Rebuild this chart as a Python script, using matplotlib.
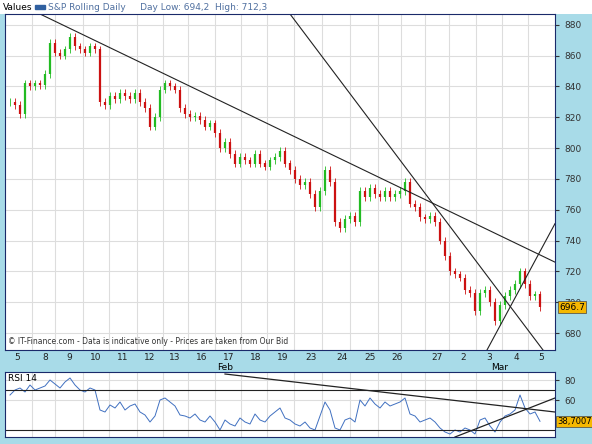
import matplotlib.pyplot as plt
import numpy as np

# closing prices, one bar every 5 px from x=10
closes = [830, 828, 822, 842, 840, 842, 841, 848, 868, 862,
          860, 864, 872, 866, 864, 862, 866, 864, 830, 828,
          834, 832, 836, 834, 832, 836, 830, 826, 814, 820,
          838, 842, 840, 838, 826, 822, 820, 821, 818, 814,
          816, 810, 800, 804, 796, 790, 794, 792, 790, 796,
          790, 788, 792, 794, 798, 790, 786, 780, 776, 778,
          770, 762, 772, 786, 778, 752, 748, 754, 756, 752,
          772, 768, 774, 770, 768, 772, 768, 770, 772, 778,
          764, 762, 755, 754, 756, 752, 740, 730, 720, 718,
          716, 708, 706, 694, 706, 708, 700, 688, 698, 704,
          708, 712, 720, 712, 704, 705, 696.7]
rsi = [65, 70, 72, 68, 75, 70, 72, 74, 80, 76,
       72, 78, 82, 75, 70, 68, 72, 70, 50, 48,
       55, 52, 58, 50, 54, 56, 48, 45, 38, 44,
       60, 62, 58, 54, 45, 44, 42, 46, 40, 38,
       44, 38, 30, 40, 36, 34, 42, 38, 36, 46,
       40, 38, 44, 48, 52, 42, 40, 36, 34, 38,
       32, 30, 44, 58, 50, 32, 30, 40, 42, 38,
       60, 54, 62, 56, 52, 58, 54, 56, 58, 62,
       46, 44, 38, 40, 42, 38, 32, 28, 26, 30,
       28, 32, 30, 26, 40, 42, 34, 28, 38, 44,
       46, 50, 65, 52, 46, 48, 38.7]
day_labels = ["5", "8", "9", "10", "11", "12", "13", "16", "17", "18",
              "19", "23", "24", "25", "26", "27", "2", "3", "4", "5"]
day_label_x = [17, 45, 69, 96, 123, 150, 175, 202, 229, 256,
               283, 311, 342, 370, 397, 437, 463, 489, 516, 541]
grid_x = [32, 55, 83, 109, 137, 163, 188, 215, 241, 267, 294, 322, 350,
          378, 401, 425, 449, 476, 502, 528]
# trendlines as (x0, v0, x1, v1)
price_lines = [(40, 887, 555, 726), (290, 887, 543, 669), (487, 669, 555, 751)]
rsi_lines = [(225, 86, 555, 48), (455, 23, 555, 62)]

BG = "#a8dbe8"
fig = plt.figure(figsize=(5.92, 4.44), dpi=100)
fig.patch.set_facecolor(BG)
W, H = 592, 444

def axes_px(x0, y0, x1, y1):
    return fig.add_axes([x0 / W, 1 - y1 / H, (x1 - x0) / W, (y1 - y0) / H])

# header
hd = axes_px(0, 0, 592, 14)
hd.set_facecolor("white")
hd.set_xticks([]); hd.set_yticks([])
for s in hd.spines.values():
    s.set_visible(False)
hd.text(3 / W, 0.5, "Values", fontsize=6.5, va="center", transform=hd.transAxes)
hd.add_patch(plt.Rectangle((35 / W, 0.35), 10 / W, 0.3, color="#3060a0", transform=hd.transAxes))
hd.text(48 / W, 0.5, "S&P Rolling Daily     Day Low: 694,2  High: 712,3", fontsize=6.5,
        va="center", color="#5070a0", transform=hd.transAxes)

ax = axes_px(5, 14, 555, 350)
ax.set_xlim(5, 555)
ax.set_ylim(669, 887)
xs = [10 + 5 * i for i in range(len(closes))]
opens = [closes[0]] + closes[:-1]
for x, o, c in zip(xs, opens, closes):
    col = "#22bb22" if c >= o else "#cc1111"
    ax.vlines(x, min(o, c) - 2.5, max(o, c) + 2.5, color=col, lw=0.6)
    ax.vlines(x, min(o, c), max(o, c) + 0.01, color=col, lw=1.6)
for x0, v0, x1, v1 in price_lines:
    ax.plot([x0, x1], [v0, v1], color="#222222", lw=0.8)
ax.set_yticks(range(680, 881, 20))
ax.yaxis.tick_right()
ax.tick_params(axis="y", labelsize=6.5, colors="#333333", length=3)
ax.set_xticks(grid_x)
ax.tick_params(axis="x", labelbottom=False, length=0)
ax.grid(True, color="#dddddd", lw=0.8)
ax.set_axisbelow(True)
for s in ax.spines.values():
    s.set_color("#1a2a6a")
ax.text(8, 673, "© IT-Finance.com - Data is indicative only - Prices are taken from Our Bid",
        fontsize=5.5, color="#333333")
ax.text(559, closes[-1], "%.1f" % closes[-1], fontsize=6.5, va="center", clip_on=False,
        zorder=5, bbox=dict(boxstyle="square,pad=0.15", fc="#f5b800", ec="#444444", lw=0.5))

for lbl, x in zip(day_labels, day_label_x):
    fig.text(x / W, 1 - 357 / H, lbl, fontsize=6.5, ha="center", va="center", color="#222222")
fig.text(225 / W, 1 - 367 / H, "Feb", fontsize=6.5, ha="center", va="center")
fig.text(500 / W, 1 - 367 / H, "Mar", fontsize=6.5, ha="center", va="center")

rx = axes_px(5, 372, 555, 437)
rx.set_xlim(5, 555)
rx.set_ylim(23, 88)
rx.plot(xs, rsi, color="#4070c0", lw=0.7)
for x0, v0, x1, v1 in rsi_lines:
    rx.plot([x0, x1], [v0, v1], color="#222222", lw=0.9)
rx.axhline(70, color="#222222", lw=0.8)
rx.axhline(30, color="#222222", lw=0.8)
rx.set_yticks([60, 80])
rx.yaxis.tick_right()
rx.tick_params(axis="y", labelsize=6.5, colors="#333333", length=3)
rx.set_xticks(grid_x)
rx.tick_params(axis="x", labelbottom=False, length=0)
rx.grid(True, color="#dddddd", lw=0.8)
rx.set_axisbelow(True)
for s in rx.spines.values():
    s.set_color("#1a2a6a")
rx.text(8, 82, "RSI 14", fontsize=6.5, va="center")
rx.text(557, rsi[-1], "38,7007", fontsize=6, va="center", clip_on=False,
        bbox=dict(boxstyle="square,pad=0.15", fc="#f5b800", ec="#444444", lw=0.5))

fig.savefig("out.png", dpi=100, facecolor=BG)
